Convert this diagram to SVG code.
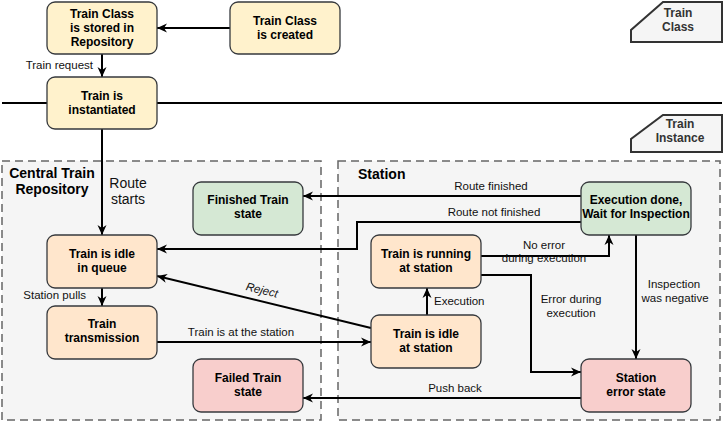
<svg xmlns="http://www.w3.org/2000/svg" width="724" height="422" viewBox="0 0 724 422">
<style>
.n rect{stroke:#36393d;stroke-width:1.3}
.y rect{fill:#fff2cc}
.o rect{fill:#ffe6cc}
.g rect{fill:#d5e8d4}
.r rect{fill:#f8cecc}
.nt{font-family:"Liberation Sans",Arial,sans-serif;font-size:12px;font-weight:bold;text-anchor:middle;fill:#000}
.lb{font-family:"Liberation Sans",Arial,sans-serif;font-size:11.5px;fill:#111}
.c{text-anchor:middle}
.e{fill:none;stroke:#000;stroke-width:2}
.cont{fill:#f5f5f5;stroke:#666;stroke-width:1.5;stroke-dasharray:8 5}
.ct{font-family:"Liberation Sans",Arial,sans-serif;font-size:14px;font-weight:bold;fill:#000}
.tag{fill:#f5f5f5;stroke:#333;stroke-width:2}
.tt{font-family:"Liberation Sans",Arial,sans-serif;font-size:12px;font-weight:bold;fill:#333;text-anchor:middle}
</style>
<defs>
<marker id="a" markerUnits="userSpaceOnUse" markerWidth="11" markerHeight="10" refX="10" refY="5" orient="auto">
<path d="M0,0.5 L10,5 L0,9.5 L3,5 z" fill="#000"/>
</marker>
</defs>
<g id="containers">
<rect class="cont" x="2" y="161" width="319" height="259"/>
<text class="ct" x="52" y="178" text-anchor="middle">Central Train</text>
<text class="ct" x="52" y="194" text-anchor="middle">Repository</text>
<rect class="cont" x="338" y="161" width="382" height="259"/>
<text class="ct" x="358" y="179">Station</text>
</g>
<g id="separator">
<line x1="2" y1="103" x2="722" y2="103" stroke="#000" stroke-width="2"/>
</g>
<g id="tag-class">
<path class="tag" d="M663,2 L722,2 L722,42 L631,42 L631,30 Z"/>
<text class="tt" x="678" y="17">Train</text>
<text class="tt" x="678" y="31">Class</text>
</g>
<g id="tag-instance">
<path class="tag" d="M663,115 L722,115 L722,152 L631,152 L631,139 Z"/>
<text class="tt" x="680" y="128">Train</text>
<text class="tt" x="680" y="142">Instance</text>
</g>
<g id="connectors">
<path class="e" d="M230,28 L157,28" marker-end="url(#a)"/>
<path class="e" d="M102,54 L102,77" marker-end="url(#a)"/>
<text class="lb" x="93" y="69" text-anchor="end">Train request</text>
<path class="e" d="M102,129 L102,235" marker-end="url(#a)"/>
<text x="128" y="188" font-family="Liberation Sans, Arial, sans-serif" font-size="14" text-anchor="middle" fill="#111">Route</text>
<text x="128" y="204" font-family="Liberation Sans, Arial, sans-serif" font-size="14" text-anchor="middle" fill="#111">starts</text>
<path class="e" d="M102,288 L102,306" marker-end="url(#a)"/>
<text class="lb" x="86" y="299" text-anchor="end">Station pulls</text>
<path class="e" d="M157,342 L371,342" marker-end="url(#a)"/>
<text class="lb c" x="241" y="336">Train is at the station</text>
<path class="e" d="M371,328 L157,276" marker-end="url(#a)"/>
<text class="lb c" x="262" y="294" font-style="italic" transform="rotate(13.7 262 290)">Reject</text>
<path class="e" d="M427,315 L427,288" marker-end="url(#a)"/>
<text class="lb" x="434" y="305">Execution</text>
<path class="e" d="M481,256 L609,256 L609,235" marker-end="url(#a)"/>
<text class="lb c" x="544" y="249">No error</text>
<text class="lb c" x="544" y="262">during execution</text>
<path class="e" d="M481,275 L531,275 L531,372 L581,372" marker-end="url(#a)"/>
<text class="lb c" x="571" y="303">Error during</text>
<text class="lb c" x="571" y="317">execution</text>
<path class="e" d="M636,235 L636,359" marker-end="url(#a)"/>
<text class="lb c" x="674" y="288">Inspection</text>
<text class="lb c" x="675" y="302">was negative</text>
<path class="e" d="M581,196 L303,196" marker-end="url(#a)"/>
<text class="lb c" x="491" y="190">Route finished</text>
<path class="e" d="M581,222 L357,222 L357,249 L157,249" marker-end="url(#a)"/>
<text class="lb c" x="494" y="216">Route not finished</text>
<path class="e" d="M581,398 L303,398" marker-end="url(#a)"/>
<text class="lb c" x="455" y="392">Push back</text>
</g>
<g id="n-stored" class="n y">
<rect x="47" y="2" width="110" height="52" rx="8"/>
<text class="nt" x="102" y="18">Train Class</text>
<text class="nt" x="102" y="32">is stored in</text>
<text class="nt" x="102" y="46">Repository</text>
</g>
<g id="n-created" class="n y">
<rect x="230" y="2" width="110" height="52" rx="8"/>
<text class="nt" x="285" y="25">Train Class</text>
<text class="nt" x="285" y="39">is created</text>
</g>
<g id="n-instantiated" class="n y">
<rect x="47" y="77" width="110" height="52" rx="8"/>
<text class="nt" x="102" y="100">Train is</text>
<text class="nt" x="102" y="114">instantiated</text>
</g>
<g id="n-finished" class="n g">
<rect x="193" y="182" width="110" height="53" rx="8"/>
<text class="nt" x="248" y="204">Finished Train</text>
<text class="nt" x="248" y="218">state</text>
</g>
<g id="n-idle-queue" class="n o">
<rect x="47" y="235" width="110" height="53" rx="8"/>
<text class="nt" x="102" y="258">Train is idle</text>
<text class="nt" x="102" y="272">in queue</text>
</g>
<g id="n-transmission" class="n o">
<rect x="47" y="306" width="110" height="53" rx="8"/>
<text class="nt" x="102" y="328">Train</text>
<text class="nt" x="102" y="342">transmission</text>
</g>
<g id="n-failed" class="n r">
<rect x="193" y="359" width="110" height="53" rx="8"/>
<text class="nt" x="248" y="382">Failed Train</text>
<text class="nt" x="248" y="396">state</text>
</g>
<g id="n-exec-done" class="n g">
<rect x="581" y="182" width="110" height="53" rx="8"/>
<text class="nt" x="636" y="204">Execution done,</text>
<text class="nt" x="636" y="218">Wait for Inspection</text>
</g>
<g id="n-running" class="n o">
<rect x="371" y="235" width="110" height="53" rx="8"/>
<text class="nt" x="426" y="258">Train is running</text>
<text class="nt" x="426" y="272">at station</text>
</g>
<g id="n-idle-station" class="n o">
<rect x="371" y="315" width="110" height="53" rx="8"/>
<text class="nt" x="426" y="338">Train is idle</text>
<text class="nt" x="426" y="352">at station</text>
</g>
<g id="n-error" class="n r">
<rect x="581" y="359" width="110" height="53" rx="8"/>
<text class="nt" x="636" y="382">Station</text>
<text class="nt" x="636" y="396">error state</text>
</g>
</svg>
